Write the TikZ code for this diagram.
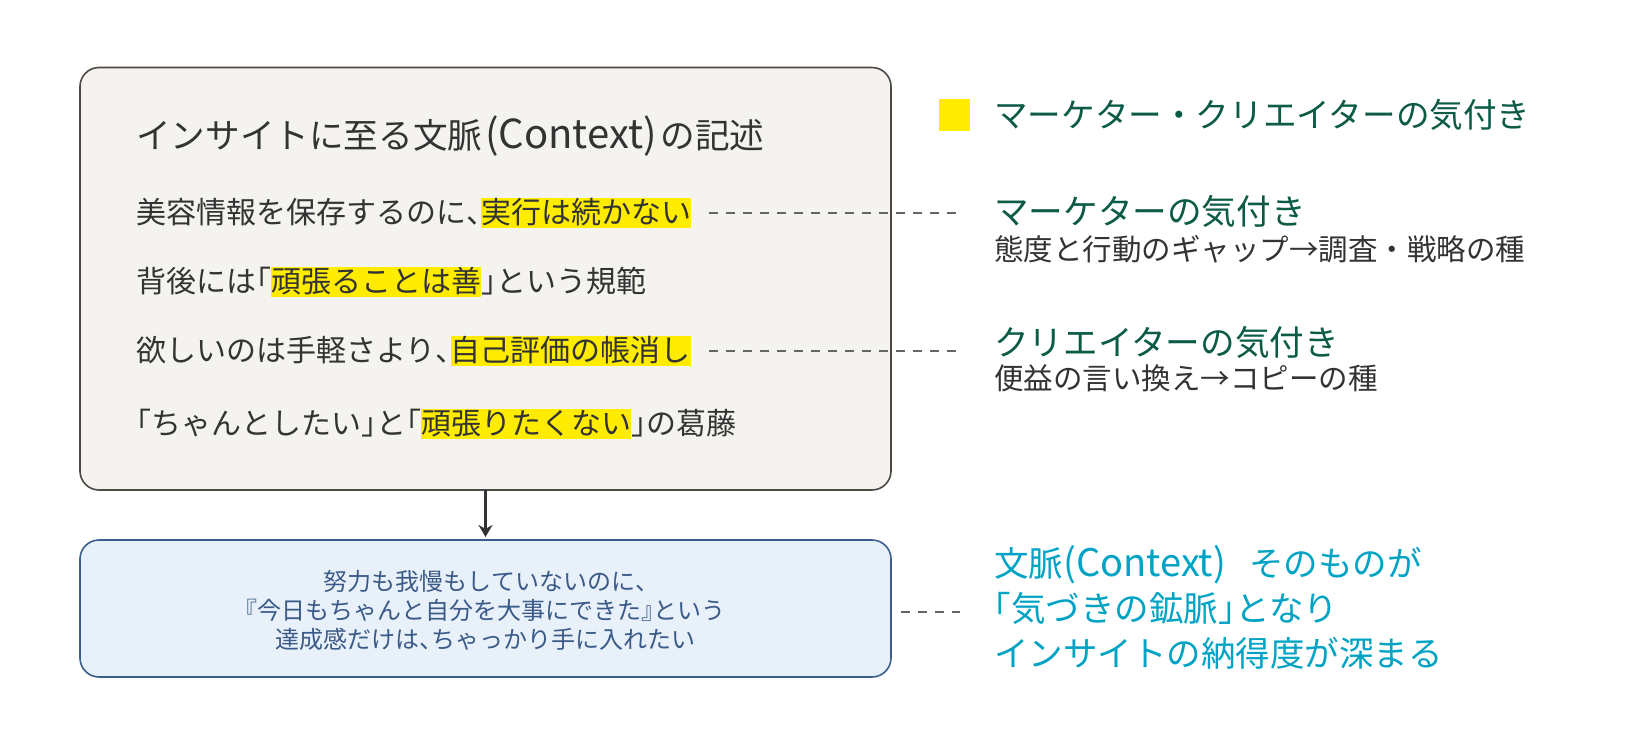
\documentclass[tikz,border=0pt]{standalone}
\usepackage{fontspec}
\setmainfont{Noto Sans CJK JP}
\usetikzlibrary{arrows.meta}
\definecolor{boxfill}{HTML}{F4F3EF}
\definecolor{boxdraw}{HTML}{4D4843}
\definecolor{hly}{HTML}{FFEC00}
\definecolor{dkgreen}{HTML}{0B5B46}
\definecolor{txt}{HTML}{333333}
\definecolor{bfill}{HTML}{E8F0FA}
\definecolor{bdraw}{HTML}{3A5F8F}
\definecolor{btxt}{HTML}{3A5A88}
\definecolor{cyantxt}{HTML}{00A3C4}
\definecolor{dashc}{HTML}{666666}
\newcommand{\hl}[1]{{\setlength{\fboxsep}{0pt}\colorbox{hly}{\rule[-0.17em]{0pt}{1.03em}#1}}}
\newcommand{\cl}[1]{\makebox[0.5em][l]{#1}}
\newcommand{\op}[1]{\makebox[0.5em][r]{#1}}
\newcommand{\latbig}[2]{{\fontsize{#1}{#1}\selectfont #2}}
\tikzset{
  mainbox/.style={draw=boxdraw, fill=boxfill, line width=1.6pt, rounded corners=19pt},
  subbox/.style={draw=bdraw, fill=bfill, line width=1.6pt, rounded corners=19pt},
  bodyline/.style={anchor=west, inner sep=0pt, text=txt, font=\fontsize{30}{36}\selectfont},
  greenhead/.style={anchor=west, inner sep=0pt, text=dkgreen, font=\fontsize{34.6}{40}\selectfont},
  graysub/.style={anchor=west, inner sep=0pt, text=txt, font=\fontsize{29.5}{34}\selectfont},
  dashline/.style={draw=dashc, line width=1.3pt, dash pattern=on 9pt off 8pt},
  flowarrow/.style={draw=txt, line width=3.6pt, -{Stealth[length=12pt,width=14pt]}, shorten >=3pt},
}
\begin{document}
\begin{tikzpicture}[x=1pt,y=-1pt]
\useasboundingbox (0,0) rectangle (1628,754);
% top box
\path[mainbox] (80,67.5) rectangle (891,490);
\coordinate (topS) at (485.5,490);
\node[anchor=west, inner sep=0pt, text=txt, font=\fontsize{34.6}{40}\selectfont] (title) at (136,136) {インサイトに至る文脈\hspace{3pt}\latbig{40}{(Context)}\hspace{4pt}の記述};
\node[bodyline] (l1) at (136,213) {美容情報を保存するのに\cl{、}\hl{実行は続かない}};
\node[bodyline] (l2) at (136,282) {背後には\op{「}\hl{頑張ることは善}\cl{」}という規範};
\node[bodyline] (l3) at (136,351) {欲しいのは手軽さより\cl{、}\hl{自己評価の帳消し}};
\node[bodyline] (l4) at (136,424) {\op{「}ちゃんとしたい\cl{」}と\op{「}\hl{頑張りたくない}\cl{」}の葛藤};
% legend
\node[fill=hly, minimum width=31pt, minimum height=32pt, inner sep=0pt, anchor=north west] (legsq) at (939,99) {};
\node[greenhead, font=\fontsize{33.6}{40}\selectfont] (legtxt) at (994,115) {マーケター・クリエイターの気付き};
% right annotations
\node[greenhead] (m1) at (994,211) {マーケターの気付き};
\node[graysub] (m2) at (994,249) {態度と行動のギャップ→調査・戦略の種};
\node[greenhead] (c1) at (994,342) {クリエイターの気付き};
\node[graysub] (c2) at (994,378) {便益の言い換え→コピーの種};
% bottom box
\path[subbox] (80,540) rectangle (891,677);
\coordinate (botN) at (485.5,540);
\node[align=center, inner sep=0pt, text=btxt, font=\fontsize{24}{29}\selectfont] (bt) at (485.5,610) {努力も我慢もしていないのに\cl{、}\\\op{『}今日もちゃんと自分を大事にできた\cl{』}という\\達成感だけは\cl{、}ちゃっかり手に入れたい};
\node[anchor=west, inner sep=0pt, align=left, text=cyantxt, font=\fontsize{34.5}{45}\selectfont] (ctx) at (994,607) {文脈\latbig{38}{(Context)}\hspace{23pt}そのものが\\\op{「}気づきの鉱脈\cl{」}となり\\インサイトの納得度が深まる};
% connectors
\draw[flowarrow] (topS) -- (botN);
\coordinate (d1s) at (709,213);
\coordinate (d1e) at (960,213);
\coordinate (d3s) at (709,351);
\coordinate (d3e) at (960,351);
\coordinate (d5s) at (901,612);
\coordinate (d5e) at (960,612);
\draw[dashline] (d1s) -- (d1e);
\draw[dashline] (d3s) -- (d3e);
\draw[dashline] (d5s) -- (d5e);
\end{tikzpicture}
\end{document}
